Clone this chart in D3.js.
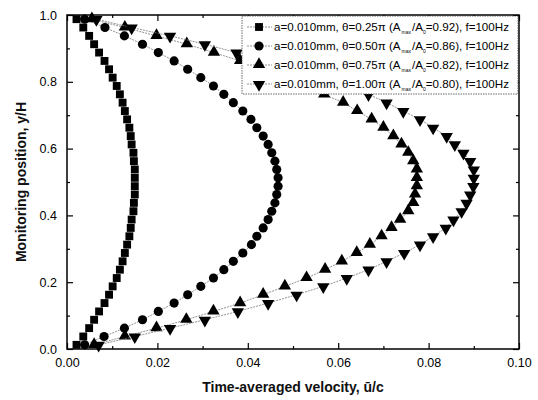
<!DOCTYPE html>
<html><head><meta charset="utf-8">
<script src="https://cdn.jsdelivr.net/npm/d3@7"></script>
<style>body{margin:0;background:#fff}svg{display:block}text{font-family:"Liberation Sans",Arial,sans-serif}</style>
</head><body>
<svg id="c" width="538" height="400"></svg>
<script>
const yPos = [0.0125,0.0375,0.0625,0.0875,0.1125,0.1375,0.1625,0.1875,0.2125,0.2375,
  0.2625,0.2875,0.3125,0.3375,0.3625,0.3875,0.4125,0.4375,0.4625,0.4875,
  0.5125,0.5375,0.5625,0.5875,0.6125,0.6375,0.6625,0.6875,0.7125,0.7375,
  0.7625,0.7875,0.8125,0.8375,0.8625,0.8875,0.9125,0.9375,0.9625,0.9875];
const uSquare = [0.0021,0.0036,0.0049,0.0060,0.0071,0.0083,0.0093,0.0101,0.0110,0.0117,
  0.0123,0.0128,0.0133,0.0138,0.0141,0.0143,0.0147,0.0148,0.0150,0.0150,
  0.0150,0.0150,0.0148,0.0147,0.0143,0.0141,0.0138,0.0133,0.0128,0.0123,
  0.0117,0.0110,0.0101,0.0093,0.0083,0.0071,0.0060,0.0049,0.0036,0.0021];
const uCircle = [0.0039,0.0082,0.0127,0.0167,0.0202,0.0237,0.0267,0.0296,0.0324,0.0347,
  0.0368,0.0389,0.0408,0.0420,0.0434,0.0445,0.0453,0.0460,0.0464,0.0467,
  0.0467,0.0464,0.0460,0.0453,0.0445,0.0434,0.0420,0.0407,0.0389,0.0368,
  0.0347,0.0324,0.0296,0.0267,0.0237,0.0202,0.0167,0.0127,0.0084,0.0039];
const uTriUp = [0.0060,0.0128,0.0198,0.0264,0.0324,0.0383,0.0434,0.0482,0.0530,0.0571,
  0.0608,0.0641,0.0670,0.0696,0.0718,0.0737,0.0755,0.0766,0.0770,0.0774,
  0.0774,0.0774,0.0766,0.0755,0.0740,0.0722,0.0700,0.0674,0.0642,0.0611,
  0.0569,0.0524,0.0479,0.0433,0.0383,0.0325,0.0265,0.0198,0.0128,0.0055];
const uTriDown = [0.0070,0.0150,0.0228,0.0305,0.0378,0.0445,0.0508,0.0567,0.0619,0.0667,
  0.0707,0.0746,0.0781,0.0810,0.0838,0.0855,0.0873,0.0884,0.0892,0.0899,
  0.0900,0.0900,0.0892,0.0877,0.0858,0.0840,0.0810,0.0781,0.0744,0.0707,
  0.0667,0.0619,0.0567,0.0508,0.0445,0.0375,0.0305,0.0228,0.0143,0.0065];
const seriesTheta = ["0.25","0.50","0.75","1.00"];
const seriesRatio = ["0.92","0.86","0.82","0.80"];
const xTicks = [0.00,0.02,0.04,0.06,0.08,0.10];
const yTicks = [0.0,0.2,0.4,0.6,0.8,1.0];

const svg = d3.select("#c");
const L=67,R=519,T=15,B=349;
const x = d3.scaleLinear().domain([0,0.1]).range([L,R]);
const y = d3.scaleLinear().domain([0,1]).range([B,T]);

const series = [
  {u:uSquare, sym:d3.symbolSquare, size:62},
  {u:uCircle, sym:d3.symbolCircle, size:66},
  {u:uTriUp, sym:d3.symbolTriangle, size:66, dy:-0.5},
  {u:uTriDown, sym:d3.symbolTriangle, size:66, rot:180, dy:0.5}
];

const line = d3.line().x(d=>x(d[0])).y(d=>y(d[1]));
const g = svg.append("g");
series.forEach((s,i)=>{
  const pts = s.u.map((v,k)=>[v,yPos[k]]);
  g.append("path").attr("d",line(pts)).attr("fill","none")
    .attr("stroke","#777").attr("stroke-width",0.8).attr("stroke-dasharray","2,1");
  g.selectAll(null).data(pts).enter().append("path")
    .attr("d",d3.symbol().type(s.sym).size(s.size))
    .attr("transform",d=>`translate(${x(d[0])},${y(d[1])+(s.dy||0)})`+(s.rot?` rotate(${s.rot})`:""))
    .attr("fill","#000");
});

// axes
const axB = d3.axisBottom(x).tickValues(xTicks).tickSize(-6).tickPadding(9).tickFormat(d3.format(".2f"));
const axBm = d3.axisBottom(x).tickValues(d3.range(0.01,0.1,0.02)).tickSize(-3).tickFormat("");
const axL = d3.axisLeft(y).tickValues(yTicks).tickSize(-6).tickPadding(10).tickFormat(d3.format(".1f"));
const axLm = d3.axisLeft(y).tickValues(d3.range(0.1,1,0.2)).tickSize(-3).tickFormat("");
const axT = d3.axisTop(x).tickValues(xTicks).tickSize(-6).tickFormat("");
const axTm = d3.axisTop(x).tickValues(d3.range(0.01,0.1,0.02)).tickSize(-3).tickFormat("");
const axR = d3.axisRight(y).tickValues(yTicks).tickSize(-6).tickFormat("");
const axRm = d3.axisRight(y).tickValues(d3.range(0.1,1,0.2)).tickSize(-3).tickFormat("");
function styl(sel){sel.selectAll(".domain").remove();sel.selectAll("line").attr("stroke","#000").attr("stroke-width",1.2);
  sel.selectAll("text").attr("font-size",12.5).attr("fill","#000").attr("font-family","Liberation Sans, Arial, sans-serif");}
svg.append("g").attr("transform",`translate(0,${B})`).call(axB).call(styl);
svg.append("g").attr("transform",`translate(0,${B})`).call(axBm).call(styl);
svg.append("g").attr("transform",`translate(${L},0)`).call(axL).call(styl);
svg.append("g").attr("transform",`translate(${L},0)`).call(axLm).call(styl);
svg.append("g").attr("transform",`translate(0,${T})`).call(axT).call(styl);
svg.append("g").attr("transform",`translate(0,${T})`).call(axTm).call(styl);
svg.append("g").attr("transform",`translate(${R},0)`).call(axR).call(styl);
svg.append("g").attr("transform",`translate(${R},0)`).call(axRm).call(styl);
svg.append("rect").attr("x",L).attr("y",T).attr("width",R-L).attr("height",B-T)
  .attr("fill","none").attr("stroke","#000").attr("stroke-width",1.5);

// legend
const lg = svg.append("g");
lg.append("rect").attr("x",242).attr("y",T+1).attr("width",R-243).attr("height",78)
  .attr("fill","#fff").attr("stroke","#444").attr("stroke-width",0.8).attr("stroke-dasharray","1.5,1");
series.forEach((s,i)=>{
  const cy = 27 + i*19;
  lg.append("line").attr("x1",247).attr("x2",272).attr("y1",cy).attr("y2",cy)
    .attr("stroke","#777").attr("stroke-width",0.8).attr("stroke-dasharray","2,1");
  lg.append("path").attr("d",d3.symbol().type(s.sym).size(s.size))
    .attr("transform",`translate(259,${cy+(s.dy||0)})`+(s.rot?` rotate(${s.rot})`:"")).attr("fill","#000");
  const t = lg.append("text").attr("x",274).attr("y",cy+4).attr("font-size",11.6).attr("fill","#000");
  t.append("tspan").text(`a=0.010mm, θ=${seriesTheta[i]}π (A`);
  t.append("tspan").text("max").attr("font-size",5).attr("dy",3).attr("dx",1);
  t.append("tspan").text("/A").attr("dy",-3).attr("dx",1);
  t.append("tspan").text("0").attr("font-size",5).attr("dy",3);
  t.append("tspan").text(`=${seriesRatio[i]}), f=100Hz`).attr("dy",-3);
});

// titles
svg.append("text").attr("x",(L+R)/2).attr("y",392).attr("text-anchor","middle")
  .attr("font-size",14).attr("font-weight","bold").attr("fill","#111").text("Time-averaged velocity, ū/c");
svg.append("text").attr("transform",`translate(26,${(T+B)/2}) rotate(-90)`).attr("text-anchor","middle")
  .attr("font-size",14).attr("font-weight","bold").attr("fill","#111").text("Monitoring position, y/H");
</script>
</body></html>
